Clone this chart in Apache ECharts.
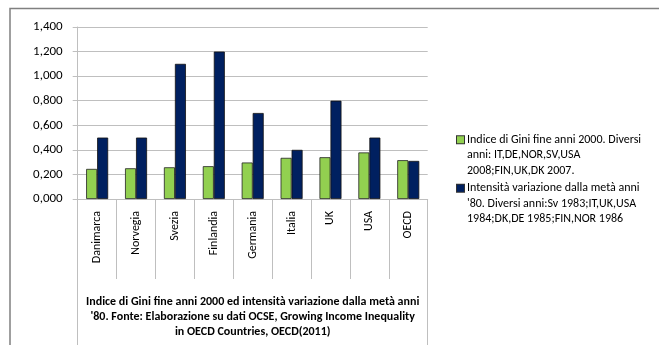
<!DOCTYPE html>
<html>
<head>
<meta charset="utf-8">
<script src="https://cdn.jsdelivr.net/npm/echarts@6/dist/echarts.min.js"></script>
<style>
    html, body { margin: 0; padding: 0; background: #fff; }
    #chart { width: 659px; height: 345px; }
</style>
</head>
<body>
<div id="chart"></div>
<script>
var paesi = ["Danimarca", "Norvegia", "Svezia", "Finlandia", "Germania", "Italia", "UK", "USA", "OECD"];
var giniFine2000 = [0.245, 0.250, 0.258, 0.267, 0.297, 0.335, 0.340, 0.379, 0.316];
var intensitaVariazione = [0.500, 0.500, 1.100, 1.200, 0.700, 0.400, 0.800, 0.500, 0.310];
var nomeGini = "Indice di Gini fine anni 2000. Diversi anni: IT,DE,NOR,SV,USA 2008;FIN,UK,DK 2007.";
var nomeIntensita = "Intensità variazione dalla metà anni '80. Diversi anni:Sv 1983;IT,UK,USA 1984;DK,DE 1985;FIN,NOR 1986";
var righeLegenda = {};
righeLegenda[nomeGini] = ["Indice di Gini fine anni 2000. Diversi", "anni: IT,DE,NOR,SV,USA", "2008;FIN,UK,DK 2007."];
righeLegenda[nomeIntensita] = ["Intensità variazione dalla metà anni", "'80. Diversi anni:Sv 1983;IT,UK,USA", "1984;DK,DE 1985;FIN,NOR 1986"];
var titoloAsse = "Indice di Gini fine anni 2000 ed intensità variazione dalla metà anni\n'80. Fonte: Elaborazione su dati OCSE, Growing Income Inequality\nin OECD Countries, OECD(2011)";

var verde = "#92d050";
var blu = "#002060";
var font = "Carlito, Lato, sans-serif";
var grigio = "#bfbfbf";

var chart = echarts.init(document.getElementById("chart"));

var option = {
    animation: false,
    textStyle: { fontFamily: font },
    grid: { left: 77.7, right: 231.3, top: 27, bottom: 146 },
    legend: {
        orient: "vertical",
        left: 447,
        top: 127,
        icon: "none",
        itemWidth: 0,
        itemHeight: 0,
        itemGap: 2,
        selectedMode: false,
        data: [nomeGini, nomeIntensita],
        formatter: function(name) {
            var r = righeLegenda[name];
            var box = name === nomeGini ? "{g|}" : "{b|}";
            return box + "{gap|}{t|" + r[0] + "}\n{sp|}{t|" + r[1] + "}\n{sp|}{t|" + r[2] + "}";
        },
        textStyle: {
            fontFamily: font,
            fontSize: 12,
            color: "#000",
            lineHeight: 15.5,
            rich: {
                t: { fontFamily: font, fontSize: 12, color: "#000", lineHeight: 15.5 },
                g: { width: 7, height: 7, backgroundColor: verde, borderColor: "#333", borderWidth: 1 },
                b: { width: 7, height: 7, backgroundColor: blu, borderColor: "#333", borderWidth: 1 },
                gap: { width: 3, height: 7 },
                sp: { width: 10, height: 7 }
            }
        }
    },
    xAxis: [
        {
            type: "category",
            data: paesi,
            axisLine: { lineStyle: { color: grigio } },
            axisTick: { show: true, interval: 0, length: 80, lineStyle: { color: grigio } },
            axisLabel: { interval: 0, rotate: 90, margin: 12, fontSize: 12, color: "#000", fontFamily: font }
        },
        {
            type: "category",
            position: "bottom",
            data: [titoloAsse],
            axisLine: { show: false },
            axisTick: { show: true, length: 160, lineStyle: { color: grigio } },
            axisLabel: {
                margin: 95, fontSize: 12, fontWeight: "bold", color: "#000",
                lineHeight: 15, align: "center", fontFamily: font
            }
        }
    ],
    yAxis: {
        type: "value",
        min: 0,
        max: 1.4,
        interval: 0.2,
        axisLine: { show: true, lineStyle: { color: grigio } },
        axisTick: { show: true, length: 5, lineStyle: { color: grigio } },
        splitLine: { lineStyle: { color: grigio } },
        axisLabel: {
            margin: 15, fontSize: 13, color: "#000", fontFamily: font,
            formatter: function(v) { return v.toFixed(3).replace(".", ","); }
        }
    },
    series: [
        {
            name: nomeGini,
            type: "bar",
            data: giniFine2000,
            barWidth: 11,
            barGap: "0%",
            itemStyle: { color: verde, borderColor: "#222", borderWidth: 0.8 }
        },
        {
            name: nomeIntensita,
            type: "bar",
            data: intensitaVariazione,
            barWidth: 11,
            barGap: "0%",
            itemStyle: { color: blu, borderColor: "#111", borderWidth: 0.8 }
        }
    ],
    graphic: [
        {
            type: "rect",
            silent: true,
            shape: { x: 10, y: 8.5, width: 800, height: 500 },
            style: { fill: null, stroke: "#808080", lineWidth: 1.5 }
        }
    ]
};

chart.setOption(option);
</script>
</body>
</html>
